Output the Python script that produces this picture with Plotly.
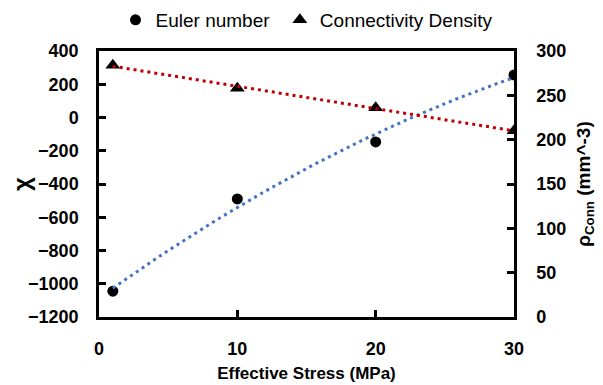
import numpy as np
import plotly.graph_objects as go

stress = [1, 10, 20, 30]
euler = [-1045, -490, -147, 256]
conn_density = [284, 258, 236, 210]

x_ticks = [0, 10, 20, 30]
left_ticks = [400, 200, 0, -200, -400, -600, -800, -1000, -1200]
right_ticks = [0, 50, 100, 150, 200, 250, 300]

FONT = "Liberation Sans"

# Excel-style trendlines computed from the data
xs = np.linspace(min(stress), max(stress), 60)
euler_fit = np.polyval(np.polyfit(stress, euler, 2), xs)
conn_fit = np.polyval(np.polyfit(stress, conn_density, 1), xs)

fig = go.Figure()

fig.add_trace(go.Scatter(x=stress, y=euler, mode="markers", name="Euler number ",
                         marker=dict(symbol="circle", size=11, color="black")))
fig.add_trace(go.Scatter(x=stress, y=conn_density, mode="markers", name="Connectivity Density",
                         yaxis="y2",
                         marker=dict(symbol="triangle-up", size=13, color="black")))
fig.add_trace(go.Scatter(x=xs, y=euler_fit, mode="lines", showlegend=False,
                         line=dict(color="#4472C4", width=3, dash="3px,4px"),
                         hoverinfo="skip"))
fig.add_trace(go.Scatter(x=xs, y=conn_fit, mode="lines", showlegend=False, yaxis="y2",
                         line=dict(color="#C00000", width=3, dash="3px,4px"),
                         hoverinfo="skip"))

axis_common = dict(showgrid=False, zeroline=False, showline=True, linecolor="black",
                   linewidth=2.5, ticks="inside", ticklen=7, tickwidth=2.5, tickcolor="black",
                   automargin=False,
                   tickfont=dict(family=FONT, size=18, color="black", weight="bold"))

fig.update_layout(
    width=603, height=385,
    margin=dict(l=91, r=97, t=43, b=76, autoexpand=False),
    paper_bgcolor="white", plot_bgcolor="white",
    font=dict(family=FONT, color="black"),
    legend=dict(orientation="h", x=0.5, xanchor="center", y=0.969, yanchor="middle",
                yref="container", font=dict(family=FONT, size=19, color="black"),
                itemwidth=30, tracegroupgap=0),
    xaxis=dict(range=[0, 30], tickvals=x_ticks, mirror=True, ticklabelstandoff=14,
               title=dict(text="<b>Effective Stress (MPa)</b>", standoff=9,
                          font=dict(family=FONT, size=17, color="black")),
               **axis_common),
    yaxis=dict(range=[-1200, 400], tickvals=left_ticks, ticklabelstandoff=14,
               title=dict(text="<b>χ</b>", standoff=8,
                          font=dict(family=FONT, size=24, color="black")),
               **axis_common),
    yaxis2=dict(range=[0, 300], tickvals=right_ticks, overlaying="y", side="right",
                ticklabelstandoff=16,
                title=dict(text="<b>ρ<sub>Conn</sub> (mm^-3)</b>", standoff=12,
                           font=dict(family=FONT, size=19, color="black")),
                **axis_common),
)

fig.write_html("out.html")
